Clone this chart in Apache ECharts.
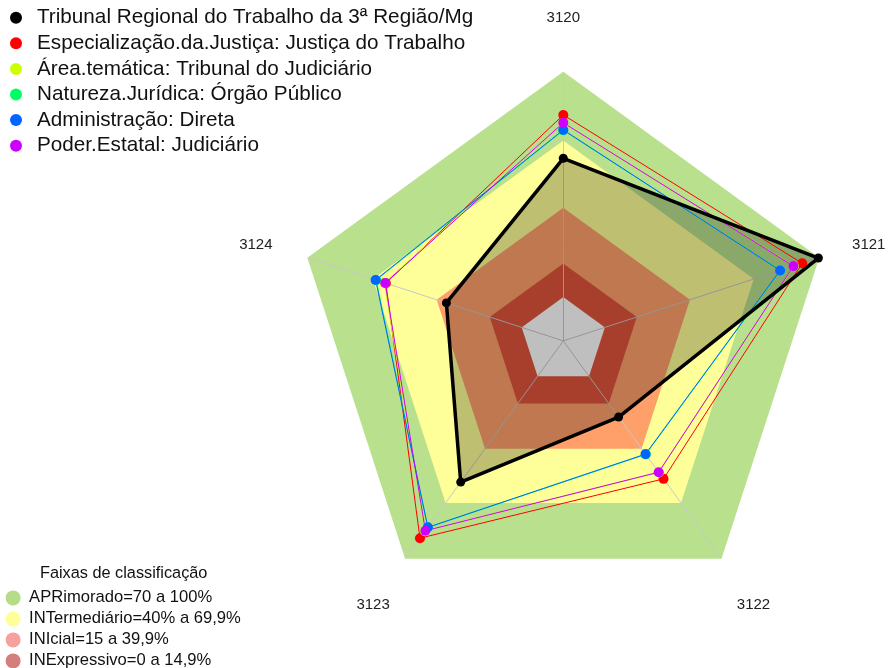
<!DOCTYPE html>
<html>
<head>
<meta charset="utf-8">
<script src="https://cdn.jsdelivr.net/npm/echarts@6/dist/echarts.min.js"></script>
<style>
  html, body { margin: 0; padding: 0; background: #fff; }
  #radar { width: 889px; height: 668px; }
</style>
</head>
<body>
<div id="radar"></div>
<script>
// eixos do radar (sentido horário a partir do topo)
var axes = ["3120", "3121", "3122", "3123", "3124"];
var axisMin = -20;
var axisMax = 100;

// séries (valores em %, na ordem de axes)
var names = [
  "Tribunal Regional do Trabalho da 3ª Região/Mg",
  "Especialização.da.Justiça: Justiça do Trabalho",
  "Área.temática: Tribunal do Judiciário",
  "Natureza.Jurídica: Órgão Público",
  "Administração: Direta",
  "Poder.Estatal: Judiciário"
];
var trt3 = [61.7, 100, 22.1, 58.1, 35];
var especializacao = [81.1, 92.4, 56.3, 89.1, 63.5];
var areaTematica = [77.5, 88.5, 52.8, 85.2, 64.2];
var natureza = [74.2, 82.2, 42.8, 83.2, 68.0];
var administracao = [74.4, 82.0, 42.6, 83.1, 68.3];
var poderEstatal = [77.6, 88.3, 52.6, 85.0, 63.8];
var seriesColors = ["#000000", "#ff0000", "#ccff00", "#00ff66", "#0066ff", "#cc00ff"];

// faixas de classificação
var bandNames = [
  "APRimorado=70 a 100%",
  "INTermediário=40% a 69,9%",
  "INIcial=15 a 39,9%",
  "INExpressivo=0 a 14,9%"
];
var bandLimits = [70, 40, 15, 0];
var bandFill = ["#b9e08d", "#ffff99", "#ffa06a", "#e0553c"];
var bandLegendColors = ["#b5dc87", "#ffff99", "#f6a0a0", "#d47e7e"];

// o echarts desenha os eixos no sentido anti-horário
var order = [0, 4, 3, 2, 1];
function reorder(arr) {
  return order.map(function (i) { return arr[i]; });
}

function bandColor(v) {
  for (var b = 0; b < bandLimits.length; b++) {
    if (v >= bandLimits[b]) return bandFill[b];
  }
  return "#ffffff";
}

// cores do splitArea: um anel a cada 5 unidades
var step = 5;
var rings = (axisMax - axisMin) / step;
var ringColors = [];
for (var k = 0; k <= rings; k++) {
  ringColors.push(bandColor(axisMin + step * (k + 0.5)));
}
// linhas na mesma cor para tapar as emendas entre anéis
var ringLineColors = ringColors.map(function (col, j) {
  return ringColors[Math.min(j, rings - 1)];
});

// posição dos rótulos dos eixos
var nameStyle = {
  "3120": "top",
  "3121": "right",
  "3122": "bottom",
  "3123": "bottom",
  "3124": "left"
};

var chart = echarts.init(document.getElementById("radar"));

var values = [trt3, especializacao, areaTematica, natureza, administracao, poderEstatal];
var series = [];

// preenchimento do TRT3 fica por baixo das outras linhas
series.push({
  type: "radar",
  name: names[0],
  symbol: "none",
  lineStyle: { width: 0 },
  itemStyle: { color: seriesColors[0] },
  areaStyle: { color: "#000000", opacity: 0.25 },
  z: 2,
  data: [{ value: reorder(trt3), name: names[0] }]
});
for (var s = 1; s < names.length; s++) {
  series.push({
    type: "radar",
    name: names[s],
    symbol: "circle",
    symbolSize: 10,
    lineStyle: { width: 1, color: seriesColors[s] },
    itemStyle: { color: seriesColors[s] },
    z: 3,
    data: [{ value: reorder(values[s]), name: names[s] }]
  });
}
// linha grossa do TRT3 por cima
series.push({
  type: "radar",
  name: names[0],
  symbol: "circle",
  symbolSize: 9,
  lineStyle: { width: 3.5, color: seriesColors[0] },
  itemStyle: { color: seriesColors[0] },
  z: 4,
  data: [{ value: reorder(trt3), name: names[0] }]
});
// séries vazias só para a legenda das faixas
for (var f = 0; f < bandNames.length; f++) {
  series.push({
    type: "radar",
    name: bandNames[f],
    itemStyle: { color: bandLegendColors[f] },
    data: []
  });
}

chart.setOption({
  animation: false,
  textStyle: { fontFamily: "Liberation Sans, Arial, sans-serif" },
  title: {
    text: "Faixas de classificação",
    left: 35,
    top: 561,
    textStyle: { fontSize: 16.3, fontWeight: "normal", color: "#111" }
  },
  legend: [
    {
      data: names,
      orient: "vertical",
      left: 5,
      top: 2.2,
      icon: "circle",
      itemWidth: 32,
      itemHeight: 12,
      itemGap: 4.6,
      selectedMode: false,
      textStyle: { fontSize: 20.7, color: "#111" }
    },
    {
      data: bandNames,
      orient: "vertical",
      left: 0.6,
      top: 584.4,
      height: 100,
      icon: "circle",
      itemWidth: 22,
      itemHeight: 15,
      itemGap: 4,
      selectedMode: false,
      textStyle: { fontSize: 16.6, color: "#111" }
    }
  ],
  radar: {
    center: [563.3, 340.9],
    radius: 268.2,
    startAngle: 90,
    shape: "polygon",
    splitNumber: rings,
    nameGap: 27,
    axisName: {
      color: "#222",
      fontSize: 15,
      formatter: function (name) {
        return "{" + nameStyle[name] + "|" + name + "}";
      },
      rich: {
        top: { fontSize: 15, color: "#222", padding: [0, 0, 20, 0] },
        right: { fontSize: 15, color: "#222", padding: [0, 0, 9, 8] },
        left: { fontSize: 15, color: "#222", padding: [0, 10, 9, 0] },
        bottom: { fontSize: 15, color: "#222", padding: [50, 0, 0, 0] }
      }
    },
    indicator: reorder(axes).map(function (a) {
      return { name: a, min: axisMin, max: axisMax };
    }),
    axisLine: { lineStyle: { color: "#c8c8c8", width: 1 } },
    axisTick: { show: false },
    axisLabel: { show: false },
    splitLine: { show: true, lineStyle: { color: ringLineColors, width: 1.5 } },
    splitArea: { show: true, areaStyle: { color: ringColors, opacity: 1 } }
  },
  series: series
});
</script>
</body>
</html>
